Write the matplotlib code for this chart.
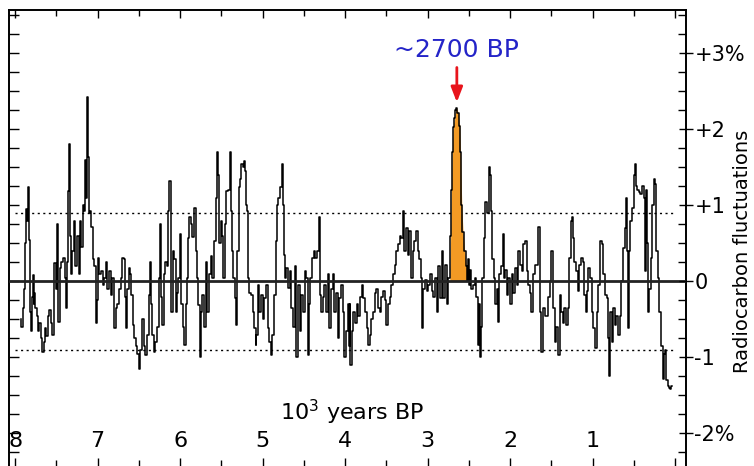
import numpy as np
import matplotlib
matplotlib.use("Agg")
import matplotlib.pyplot as plt
from matplotlib.ticker import MultipleLocator

# radiocarbon record (10^3 years BP, % deviation)
kyr_bp = [
    7.93, 7.92, 7.90, 7.89, 7.88, 7.86, 7.85, 7.84, 7.83, 7.82, 7.81, 7.80, 7.79, 7.78, 7.77,
    7.76, 7.75, 7.73, 7.71, 7.70, 7.68, 7.66, 7.65, 7.63, 7.61, 7.59, 7.58, 7.56, 7.54, 7.52,
    7.50, 7.49, 7.48, 7.47, 7.45, 7.43, 7.41, 7.39, 7.37, 7.36, 7.35, 7.34, 7.33, 7.31, 7.30,
    7.28, 7.26, 7.24, 7.22, 7.21, 7.19, 7.17, 7.16, 7.15, 7.13, 7.12, 7.11, 7.10, 7.09, 7.07,
    7.05, 7.03, 7.01, 7.00, 6.99, 6.97, 6.95, 6.93, 6.91, 6.89, 6.87, 6.85, 6.83, 6.81, 6.79,
    6.77, 6.75, 6.73, 6.71, 6.69,
    6.67, 6.66, 6.65, 6.63, 6.61, 6.60, 6.58, 6.57, 6.55, 6.53, 6.51, 6.49, 6.47, 6.45, 6.43,
    6.41, 6.39, 6.37, 6.36, 6.35, 6.33, 6.31, 6.29, 6.27, 6.25, 6.24, 6.22, 6.21, 6.19, 6.17,
    6.15, 6.14, 6.12, 6.11, 6.10, 6.08, 6.06, 6.05, 6.03, 6.01, 5.99, 5.98, 5.96, 5.94, 5.92,
    5.91, 5.90, 5.88, 5.86, 5.84, 5.82, 5.80, 5.79, 5.77, 5.75, 5.74, 5.72, 5.70, 5.68, 5.66,
    5.64, 5.62, 5.60, 5.58, 5.56, 5.54, 5.53, 5.52, 5.50, 5.48, 5.47, 5.45, 5.43, 5.40, 5.39,
    5.37, 5.36, 5.35, 5.33, 5.32,
    5.31, 5.30, 5.28, 5.27, 5.25, 5.23, 5.22, 5.21, 5.20, 5.19, 5.18, 5.17, 5.15, 5.13, 5.11,
    5.09, 5.08, 5.07, 5.05, 5.03, 5.01, 4.99, 4.97, 4.95, 4.93, 4.91, 4.89, 4.87, 4.85, 4.83,
    4.82, 4.80, 4.78, 4.76, 4.75, 4.74, 4.73, 4.72, 4.70, 4.68, 4.66, 4.64, 4.62, 4.60, 4.58,
    4.56, 4.54, 4.52, 4.50, 4.48, 4.46, 4.44, 4.43, 4.41, 4.39, 4.37, 4.35, 4.33, 4.31, 4.30,
    4.28, 4.26, 4.24, 4.22, 4.20, 4.18, 4.16, 4.14, 4.12, 4.10, 4.08, 4.06, 4.04, 4.02, 4.00,
    3.98, 3.96,
    3.95, 3.94, 3.93, 3.91, 3.89, 3.87, 3.85, 3.83, 3.81, 3.79, 3.77, 3.75, 3.73, 3.71, 3.69,
    3.67, 3.65, 3.63, 3.61, 3.59, 3.57, 3.55, 3.53, 3.51, 3.49, 3.47, 3.45, 3.43, 3.41, 3.39,
    3.37, 3.35, 3.33, 3.31, 3.29, 3.27, 3.25, 3.23, 3.21, 3.19, 3.17, 3.15, 3.13, 3.11, 3.09,
    3.07, 3.06, 3.04, 3.02, 3.00, 2.98, 2.96, 2.94, 2.92, 2.90, 2.88, 2.86, 2.84, 2.82, 2.80,
    2.78, 2.76, 2.74,
    2.73, 2.72, 2.71, 2.70, 2.69, 2.67, 2.66, 2.645, 2.63, 2.61, 2.60, 2.585, 2.57, 2.55, 2.53,
    2.51,
    2.50, 2.49, 2.48, 2.46, 2.44, 2.42, 2.40, 2.38, 2.37, 2.36, 2.35, 2.33, 2.31, 2.29, 2.27,
    2.25, 2.24, 2.22, 2.21, 2.19, 2.17, 2.15, 2.14, 2.12, 2.10, 2.08, 2.07, 2.05, 2.03, 2.01,
    1.99, 1.97, 1.95, 1.93, 1.91, 1.89, 1.87, 1.85, 1.83, 1.81, 1.79, 1.77, 1.75, 1.73, 1.71,
    1.68, 1.65, 1.63, 1.61, 1.59, 1.57, 1.55, 1.53, 1.51, 1.49, 1.47, 1.45, 1.43, 1.41, 1.39,
    1.37, 1.35, 1.33, 1.31, 1.29, 1.27, 1.25,
    1.24, 1.23, 1.21, 1.19, 1.17, 1.15, 1.13, 1.11, 1.09, 1.08, 1.06, 1.04, 1.02, 1.00, 0.98,
    0.96, 0.94, 0.92, 0.90, 0.88, 0.86, 0.84, 0.82, 0.80, 0.79, 0.78, 0.76, 0.74, 0.72, 0.70,
    0.68, 0.66, 0.64, 0.62, 0.60, 0.59, 0.58, 0.57, 0.55, 0.53, 0.51, 0.49, 0.48, 0.47, 0.45,
    0.43, 0.41, 0.39, 0.37, 0.36, 0.35, 0.33, 0.32, 0.30, 0.28, 0.27, 0.25, 0.24, 0.22, 0.20,
    0.18, 0.16, 0.14, 0.13, 0.12, 0.10, 0.08, 0.07, 0.05, 0.04,
]
c14_pct = [
    -0.50, -0.60, -0.35, -0.10, 0.50, 0.95, 0.80, 1.24, 0.55, 0.05, -0.40, -0.66, -0.20, 0.08, -0.30,
    -0.15, -0.35, -0.45, -0.66, -0.55, -0.75, -0.93, -0.80, -0.62, -0.72, -0.45, -0.38, -0.55, -0.71, 0.24,
    -0.10, 0.75, 0.10, -0.53, 0.18, 0.25, 0.31, 0.05, -0.35, 0.25, 1.19, 1.81, 0.60, 0.10, 0.40,
    0.79, 0.20, 0.60, 0.10, 0.79, 0.45, 1.00, 0.93, 1.59, 1.10, 2.43, 1.63, 0.90, 0.93, 0.71,
    0.30, 0.20, -0.55, -0.25, 0.31, 0.10, 0.13, -0.05, 0.05, 0.26, -0.10, 0.13, -0.18, 0.05, -0.62,
    -0.35, -0.30, -0.10, 0.05, 0.31,
    0.30, -0.20, -0.62, -0.10, 0.18, 0.09, -0.18, -0.57, -0.75, -0.85, -0.95, -1.15, -0.90, -0.50, -0.85,
    -0.97, -0.70, -0.18, 0.26, -0.30, -0.70, -0.93, -0.80, -0.60, 0.04, 0.75, -0.20, -0.57, 0.09, 0.26,
    0.20, 0.93, 1.32, 0.45, -0.40, 0.40, 0.30, -0.40, -0.15, 0.04, 0.62, -0.30, -0.60, -0.84, -0.30,
    0.04, 0.57, 0.84, 0.75, 0.58, 0.97, 0.40, 0.04, -0.31, -1.00, -0.40, -0.18, -0.60, 0.26, -0.40,
    0.09, 0.33, 0.04, 0.53, 1.10, 1.70, 1.40, 0.50, 0.80, 0.60, 0.04, 0.75, 1.19, 1.20, 1.70,
    0.93, 0.40, 0.04, -0.22, -0.57,
    -0.40, 0.40, 1.24, 1.35, 1.55, 1.50, 1.58, 1.45, 1.20, 1.00, 0.93, 0.04, -0.15, -0.18, -0.40,
    -0.62, -0.84, -0.70, -0.05, -0.40, -0.18, -0.50, -0.22, -0.05, -0.62, -0.80, -0.97, -0.70, -0.18, 0.53,
    1.00, 1.10, 1.24, 1.55, 1.00, 0.80, 0.35, 0.04, 0.18, -0.09, 0.13, -0.35, -0.60, 0.20, -1.00,
    -0.05, -0.66, -0.18, -0.40, 0.13, 0.04, -0.97, -0.30, 0.04, 0.31, 0.40, 0.31, 0.40, 0.84, -0.18,
    -0.40, -0.20, -0.05, -0.40, 0.09, -0.62, -0.10, 0.09, -0.40, -0.15, -0.75, -0.22, -0.05, -0.40, -1.00,
    -0.66, -0.30,
    -0.85, -0.30, -1.10, -0.66, -0.40, -0.55, -0.30, -0.45, -0.20, -0.05, -0.22, -0.40, -0.62, -0.84, -0.70,
    -0.50, -0.40, -0.15, -0.10, -0.35, -0.40, -0.20, -0.13, -0.25, -0.57, -0.30, -0.20, -0.05, 0.10, 0.22,
    0.40, 0.49, 0.60, 0.57, 0.93, 0.40, 0.70, 0.35, 0.66, 0.04, 0.40, 0.53, 0.66, 0.40, 0.30,
    0.04, -0.62, -0.10, 0.02, -0.13, -0.05, 0.09, -0.13, -0.20, 0.04, -0.40, 0.20, -0.22, 0.40, -0.22,
    0.22, -0.30, 0.05,
    0.05, 0.60, 1.20, 1.70, 2.03, 2.15, 2.25, 2.28, 2.22, 2.05, 1.70, 1.00, 0.65, 0.40, 0.20,
    0.00,
    0.30, -0.05, 0.15, -0.10, -0.05, 0.04, -0.20, -0.84, -0.30, -1.00, -0.60, 0.04, 0.57, 1.05, 0.90,
    1.50, 1.40, 0.93, 0.30, 0.04, -0.30, -0.10, -0.53, 0.09, 0.20, 0.62, 0.04, 0.15, -0.18, 0.04,
    -0.30, 0.09, -0.15, 0.18, -0.05, 0.40, 0.22, 0.13, 0.49, 0.53, 0.13, -0.05, -0.15, -0.40, 0.09,
    0.22, 0.71, -0.40, -0.93, -0.35, -0.45, -0.45, -0.20, 0.00, 0.40, -0.35, -0.80, -0.60, -0.97, -0.18,
    -0.40, -0.55, -0.35, -0.57, -0.35, 0.31, 0.80,
    0.84, 0.57, 0.26, 0.13, -0.13, 0.22, 0.31, 0.26, -0.18, -0.40, -0.13, 0.18, 0.05, -0.40, -0.62,
    -0.88, -0.40, -0.05, 0.53, 0.49, 0.10, -0.18, -0.22, -0.75, -1.24, -0.40, -0.80, -0.35, -0.57, -0.45,
    -0.70, -0.45, 0.00, 0.44, 0.70, 1.10, 0.40, -0.62, 0.40, 0.80, 0.97, 1.40, 1.55, 1.25, 1.20,
    1.18, 1.15, 1.25, 1.10, 0.13, 1.20, 0.50, -0.40, -0.10, 0.31, 1.00, 1.35, 1.28, 0.40, 0.04,
    -0.40, -0.85, -1.28, -0.95, -0.90, -1.30, -1.38, -1.40, -1.42, -1.38,
]

event_start, event_end = 2.73, 2.51   # shaded ~2700 BP excursion
band = 0.9                            # dotted reference levels
xtick_vals = [8, 7, 6, 5, 4, 3, 2, 1]
ytick_vals = [-2, -1, 0, 1, 2, 3]
ytick_labels = ['-2%', '-1', '0', '+1', '+2', '+3%']

t = np.array(kyr_bp)
v = np.array(c14_pct)

fig = plt.figure(figsize=(7.54, 4.66), dpi=100)
ax = fig.add_axes([8.5 / 754, 0.0, (686 - 8.5) / 754, 456 / 466])
ax.set_xlim(8.08, -0.133)
ax.set_ylim(-2.43, 3.57)

ev = (t <= event_start + 0.005) & (t >= event_end - 0.005)
ax.fill_between(t[ev], v[ev], 0, color='#F39A24', lw=0, zorder=2)
ax.plot(t, v, color='black', lw=1.1, drawstyle='steps-mid', zorder=3)
ax.axhline(0, color='#222222', lw=2.0, zorder=4)
for lev in (band, -band):
    ax.plot([8.0, 0.0], [lev, lev], color='black', lw=1.0, ls=(0, (1.5, 2.5)), zorder=1)

for s in ('left', 'right', 'top'):
    ax.spines[s].set_linewidth(1.4)
ax.spines['bottom'].set_visible(False)

ax.xaxis.set_major_locator(MultipleLocator(1))
ax.xaxis.set_minor_locator(MultipleLocator(0.5))
ax.tick_params(axis='x', which='both', direction='in', top=True, bottom=True,
               labelbottom=False, width=1.0)
ax.tick_params(axis='x', which='major', length=6)
ax.tick_params(axis='x', which='minor', length=4)

ax.yaxis.set_major_locator(MultipleLocator(1))
ax.yaxis.set_minor_locator(MultipleLocator(0.25))
ax.tick_params(axis='y', which='both', direction='in', left=True, right=False,
               labelleft=False, length=7, width=1.0)

ax2 = ax.twinx()
ax2.set_ylim(ax.get_ylim())
ax2.set_yticks(ytick_vals)
ax2.set_yticklabels(ytick_labels)
ax2.yaxis.set_minor_locator(MultipleLocator(0.25))
ax2.tick_params(axis='y', which='major', direction='inout', length=10, width=1.0,
                pad=1, labelsize=15)
ax2.tick_params(axis='y', which='minor', direction='in', length=6, width=1.0)
for s in ax2.spines.values():
    s.set_visible(False)

for k in xtick_vals:
    ax.text(k, 0.055, str(k), transform=ax.get_xaxis_transform(),
            ha='center', va='center', fontsize=16)
ax.text(3.92, 0.118, '10$^3$ years BP', transform=ax.get_xaxis_transform(),
        ha='center', va='center', fontsize=16)

fig.text(742 / 754, 1 - 251 / 466, 'Radiocarbon fluctuations', rotation=90,
         ha='center', va='center', fontsize=14)

peak_t = 2.645
ax.text(peak_t, 3.04, '~2700 BP', color='#2424C8', fontsize=18, ha='center', va='center')
ax.annotate('', xy=(peak_t, 2.32), xytext=(peak_t, 2.85),
            arrowprops=dict(arrowstyle='-|>,head_length=0.9,head_width=0.35',
                            color='#E8141C', lw=2))

fig.savefig('out.png', dpi=100)
